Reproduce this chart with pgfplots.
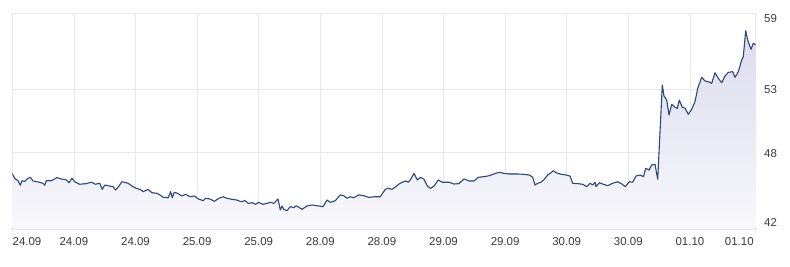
\documentclass[border=0pt]{standalone}
\usepackage{pgfplots}
\pgfplotsset{compat=1.18}
\usepgfplotslibrary{fillbetween}
\usepackage{fontspec}
\setmainfont{Liberation Sans}
\definecolor{linec}{HTML}{2B4A7C}
\definecolor{gridc}{HTML}{E8E8EC}
\definecolor{txtc}{HTML}{3A3A3A}
\definecolor{filltop}{HTML}{DCDCEE}
\definecolor{fillbot}{HTML}{F8F8FC}
\begin{document}
\begin{tikzpicture}
\begin{axis}[
  at={(0,0)}, anchor=south west,
  scale only axis, width=743.4bp, height=216bp,
  xmin=12.3, xmax=755.7, ymin=42, ymax=59,
  axis line style={gridc, line width=0.6pt},
  grid=major, grid style={gridc, line width=0.6pt},
  major tick length=0pt, tick style={draw=none},
  xtick={73.9,135.5,197.1,258.7,320.3,381.9,443.5,505.1,566.7,628.3,689.9},
  xticklabels={24.09,24.09,25.09,25.09,28.09,28.09,29.09,29.09,30.09,30.09,01.10},
  extra x ticks={27,739.3},
  extra x tick labels={24.09,01.10},
  extra x tick style={grid=none},
  ytick={42,48,53,59},
  yticklabels={},
  extra y ticks={42.55,47.9,52.94,58.58},
  extra y tick labels={42,48,53,59},
  extra y tick style={grid=none, yticklabel pos=right},
  yticklabel pos=right,
  ticklabel style={font=\fontsize{11.5}{13}\selectfont, text=txtc},
  xticklabel style={yshift=-5bp},
  yticklabel style={xshift=5bp},
  /pgf/number format/assume math mode=true,
  clip=true,
]
\pgfplotstableread{
x y
12.3 46.35
14.7 45.99
18 45.80
20.3 45.44
22 45.80
24.7 45.75
28 45.99
30.3 46.07
33 45.78
38 45.70
43 45.60
44.7 45.44
46.3 45.80
51.3 45.80
57 46.04
61.3 45.94
66.3 45.86
69 45.64
72 45.99
74.7 45.72
79.7 45.52
86.3 45.57
91.3 45.68
95.3 45.52
99.7 45.60
102.3 45.12
104.7 45.46
109.7 45.38
113 45.33
115.7 45.07
118 45.28
122 45.72
128 45.60
132 45.38
136.3 45.20
140 45.12
143.3 44.94
148.3 45.12
151.7 44.86
156.7 44.81
160 44.68
163.3 44.49
168.3 44.46
170.7 44.94
172.3 44.46
174.3 44.89
177.7 44.81
181.7 44.60
185.7 44.73
190 44.54
194.3 44.60
198.3 44.36
203.3 44.23
205.7 44.42
210 44.36
214.3 44.18
219 44.42
223.3 44.54
226.7 44.42
231.7 44.34
236.7 44.28
241 44.15
245 44.23
248.3 44.02
252.3 44.07
255.7 43.94
258.3 44.10
263.3 43.94
267 44.02
270.3 44.10
273.7 44.02
278 44.36
280.3 43.50
282 43.81
283.7 43.55
287 43.44
290.3 43.76
293.7 43.68
296.3 43.83
298.7 43.71
302 43.55
307 43.81
312 43.89
317 43.83
323 43.76
327 44.28
330.3 44.10
335.3 44.23
340.3 44.68
343.7 44.62
347 44.42
350.3 44.54
353.7 44.46
358.7 44.68
363.7 44.62
368.7 44.49
375.3 44.54
380.3 44.54
385.3 45.12
388 45.20
392 45.12
395.7 45.33
399 45.54
402.3 45.68
405.7 45.78
408.3 45.68
410.7 45.91
414 46.38
417.3 45.86
420.7 46.07
424 45.91
427.3 45.38
430.7 45.20
434 45.38
438.3 45.86
442.3 45.68
449 45.68
454 45.54
459 45.57
464 45.94
469 45.78
474 45.78
478.3 46.07
484 46.12
489 46.19
494 46.33
499 46.46
504 46.38
509 46.33
517.3 46.33
522.7 46.31
529.3 46.25
532.7 46.07
535 45.46
537.7 45.60
541 45.68
544.3 45.91
547.7 46.25
551 46.43
553.3 46.59
556 46.43
561 46.31
566 46.25
570 46.17
572.7 45.60
577.7 45.57
582.7 45.52
586.7 45.33
590 45.60
592.7 45.46
595 45.68
596 45.33
599.3 45.64
603.3 45.52
607.7 45.41
612.7 45.60
617.7 45.72
622 45.54
625.3 45.33
629.3 45.72
632.7 45.68
636 46.17
640 46.25
643.5 46.12
645.7 46.78
649 46.64
651.7 47.04
655 47.09
657.7 45.91
662.3 53.33
664 52.47
666.7 52.15
669 50.97
671.7 51.81
675 51.58
677.3 51.50
679.3 52.15
682.3 51.58
685 51.50
688.3 51.03
691.7 51.42
695 52.02
697.7 53.07
701.7 53.94
705 53.65
708.3 53.59
711.7 53.47
715 54.30
718.3 53.86
721.7 53.51
725 54.04
728.3 54.33
732.7 54.38
735 53.94
738.3 54.38
741.7 55.30
743.3 55.56
745.7 57.61
747.7 56.87
751 56.14
753.3 56.62
755.7 56.48
}\pricedata
\addplot[name path=price, draw=none, forget plot] table {\pricedata};
\addplot[name path=base, draw=none, forget plot] coordinates {(12.3,42) (755.7,42)};
\addplot[top color=filltop, bottom color=fillbot, draw=none] fill between[of=price and base];
\addplot[draw=linec, line width=1.1pt, line join=round] table {\pricedata};
\end{axis}
\pgfresetboundingbox
\useasboundingbox (-12.3bp,-38bp) rectangle (777.7bp,229bp);
\end{tikzpicture}
\end{document}
